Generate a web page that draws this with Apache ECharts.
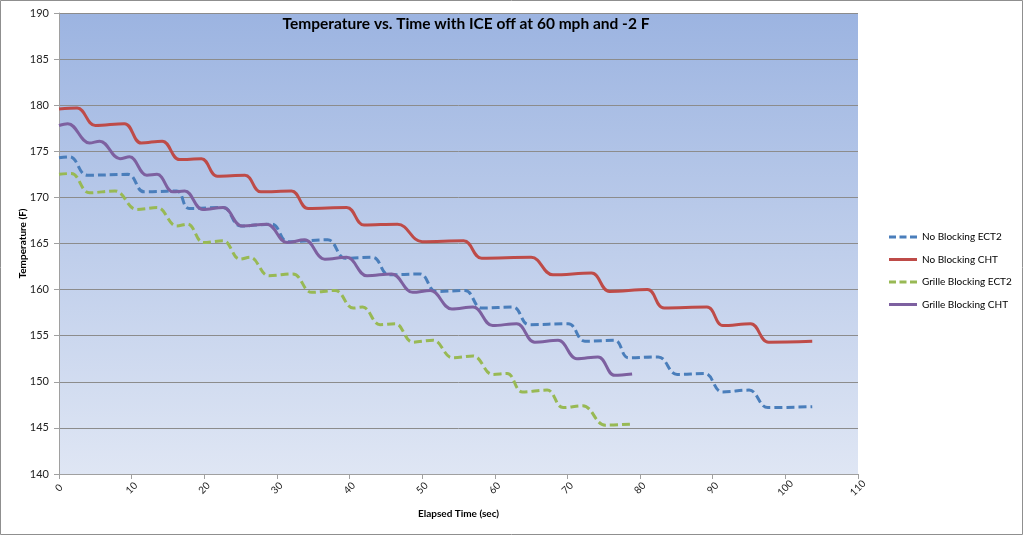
<!DOCTYPE html>
<html>
<head>
<meta charset="utf-8">
<script src="https://cdn.jsdelivr.net/npm/echarts@6/dist/echarts.min.js"></script>
<style>html,body{margin:0;padding:0;background:#fff}#c{width:1024px;height:536px}</style>
</head>
<body>
<div id="c"></div>
<script>
const seriesNames = ['No Blocking ECT2', 'No Blocking CHT', 'Grille Blocking ECT2', 'Grille Blocking CHT'];
const xTicks = [0, 10, 20, 30, 40, 50, 60, 70, 80, 90, 100, 110];
const yTicks = [140, 145, 150, 155, 160, 165, 170, 175, 180, 185, 190];

const noBlockingECT2 = [[0,174.3],[1.5,174.4],[3.9,172.4],[9.5,172.5],[11.7,170.6],[16.2,170.7],[17.9,168.8],[22.6,168.9],[25,166.9],[29.3,167.1],[31.5,165.2],[37,165.4],[39.4,163.4],[43.2,163.5],[45.4,161.6],[49.7,161.7],[51.9,159.8],[55.9,159.9],[58.2,158.0],[62.5,158.1],[64.7,156.2],[70.1,156.3],[72.4,154.4],[76.5,154.5],[78.4,152.6],[82.5,152.7],[85.1,150.8],[88.9,150.9],[91.3,148.9],[95,149.1],[97.6,147.2],[103.7,147.3]];
const noBlockingCHT = [[0,179.6],[2.5,179.7],[5,177.8],[9,178.0],[11.3,175.9],[14.2,176.1],[16.6,174.1],[19.6,174.2],[21.8,172.3],[25.6,172.4],[27.8,170.6],[32,170.7],[34.3,168.8],[39.6,168.9],[42,167.0],[46.6,167.1],[50,165.2],[55.7,165.3],[58.2,163.4],[65,163.5],[68,161.6],[73.3,161.8],[75.8,159.8],[81,160.0],[83.3,158.0],[89.2,158.1],[91.4,156.1],[95.2,156.3],[97.7,154.3],[103.7,154.4]];
const grilleBlockingECT2 = [[0,172.5],[1.7,172.6],[4.2,170.5],[7.7,170.7],[10.7,168.7],[13.5,168.9],[16.2,166.9],[17.7,167.1],[19.9,165.1],[22.6,165.3],[24.9,163.3],[26.3,163.5],[28.9,161.5],[32.2,161.7],[34.8,159.7],[38,159.9],[40.5,158.0],[41.8,158.1],[44.2,156.2],[46.3,156.3],[48.7,154.3],[51.5,154.5],[54.2,152.6],[57,152.8],[59.7,150.8],[61.7,150.9],[63.8,148.9],[67.2,149.1],[69.4,147.2],[72.1,147.4],[75.2,145.3],[78.6,145.4]];
const grilleBlockingCHT = [[0,177.8],[1.2,178.0],[4.2,175.9],[5.6,176.1],[8.4,174.2],[9.7,174.4],[12.1,172.4],[13.5,172.5],[15.7,170.6],[17.3,170.7],[19.8,168.7],[22.6,168.9],[25.2,166.9],[28.6,167.1],[31.4,165.1],[33.8,165.4],[36.6,163.3],[39.6,163.5],[42.4,161.5],[45.8,161.7],[48.7,159.7],[51.1,159.9],[54.1,157.9],[57,158.1],[59.7,156.1],[63,156.3],[65.5,154.3],[68.7,154.5],[71.3,152.5],[74.2,152.7],[76.5,150.7],[78.9,150.85]];

const seriesData = [noBlockingECT2, noBlockingCHT, grilleBlockingECT2, grilleBlockingCHT];
const colors = ['#4a7ebb', '#be4b48', '#98b954', '#7d60a0'];
const dashed = [true, false, true, false];

const DASH_ICON = 'path://M0,0h7v3h-7z M10.5,0h7v3h-7z M21,0h7v3h-7z';
const SOLID_ICON = 'path://M0,0h28v3h-28z';

const FONT = 'Lato, "Open Sans", sans-serif';
const chart = echarts.init(document.getElementById('c'));
chart.setOption({
  animation: false,
  backgroundColor: '#fff',
  title: {
    text: 'Temperature vs. Time with ICE off at 60 mph and -2 F',
    left: 461, top: 11, textAlign: 'center',
    textStyle: { fontFamily: FONT, fontWeight: 'bold', fontSize: 15.5, color: '#000' }
  },
  graphic: [{
    type: 'rect', silent: true, z: 100,
    shape: { x: 0.5, y: 0.5, width: 1022, height: 534 },
    style: { fill: 'none', stroke: '#8f8f8f', lineWidth: 1 }
  }],
  legend: {
    orient: 'vertical', left: 884, top: 227,
    itemWidth: 28, itemHeight: 3, itemGap: 12.5,
    textStyle: { fontFamily: FONT, fontSize: 10, color: '#000' },
    data: seriesNames.map((n, i) => ({ name: n, icon: dashed[i] ? DASH_ICON : SOLID_ICON }))
  },
  grid: {
    left: 59, right: 166, top: 13, bottom: 62, show: true,
    borderWidth: 0,
    backgroundColor: new echarts.graphic.LinearGradient(0, 0, 0, 1, [
      { offset: 0, color: '#9cb4e1' },
      { offset: 1, color: '#dfe6f4' }
    ])
  },
  xAxis: {
    type: 'value', min: xTicks[0], max: xTicks[xTicks.length - 1], interval: 10,
    name: 'Elapsed Time (sec)', nameLocation: 'middle', nameGap: 35, nameMoveOverlap: false,
    nameTextStyle: { fontFamily: FONT, fontWeight: 'bold', fontSize: 10, color: '#000' },
    axisLine: { show: true, lineStyle: { color: '#a0a0a0', width: 1 } },
    axisTick: { show: true, length: 5, lineStyle: { color: '#a0a0a0' } },
    axisLabel: { rotate: 45, align: 'center', verticalAlign: 'middle', fontFamily: FONT, fontSize: 10, color: '#222', margin: 14 },
    splitLine: { show: false }
  },
  yAxis: {
    type: 'value', min: yTicks[0], max: yTicks[yTicks.length - 1], interval: 5,
    name: 'Temperature (F)', nameLocation: 'middle', nameGap: 31, nameRotate: 90, nameMoveOverlap: false,
    nameTextStyle: { fontFamily: FONT, fontWeight: 'bold', fontSize: 10, color: '#000' },
    axisLine: { show: true, lineStyle: { color: '#a0a0a0', width: 1 } },
    axisTick: { show: true, length: 5, inside: false, lineStyle: { color: '#a0a0a0' } },
    axisLabel: { fontFamily: FONT, fontSize: 11, color: '#222', margin: 10 },
    splitLine: { show: true, lineStyle: { color: '#8c8c8c', width: 1 } }
  },
  series: seriesNames.map((n, i) => ({
    name: n, type: 'line', data: seriesData[i],
    smooth: 0.4, showSymbol: false, symbol: 'none',
    color: colors[i],
    lineStyle: { color: colors[i], width: 3, type: dashed[i] ? [8, 4] : 'solid' }
  }))
});
</script>
</body>
</html>
